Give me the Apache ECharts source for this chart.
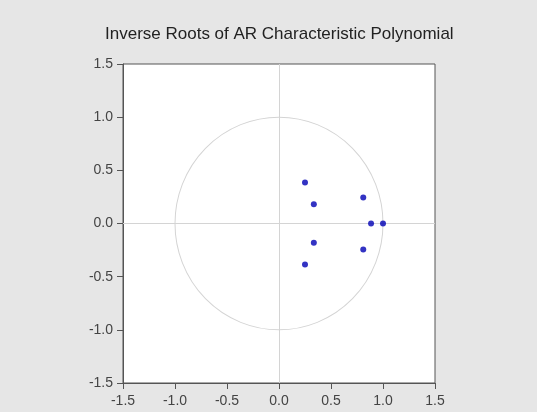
<!DOCTYPE html>
<html>
<head>
<meta charset="utf-8">
<script src="https://cdn.jsdelivr.net/npm/echarts@6/dist/echarts.min.js"></script>
<style>
html,body{margin:0;padding:0;background:#e6e6e6;}
#chart{width:537px;height:412px;}
</style>
</head>
<body>
<div id="chart"></div>
<script>
// Inverse roots (real, imaginary)
var rootReal = [0.25, 0.335, 0.81, 0.885, 1.0, 0.335, 0.81, 0.25];
var rootImag = [0.385, 0.182, 0.245, 0, 0, -0.182, -0.245, -0.385];
var axisTicks = [-1.5, -1.0, -0.5, 0.0, 0.5, 1.0, 1.5];
var unitRadius = [1];

var pts = rootReal.map(function (r, i) { return [r, rootImag[i]]; });

var chart = echarts.init(document.getElementById('chart'));
var labelStyle = {color: '#444', fontFamily: 'Liberation Sans, Arial', fontSize: 14,
  formatter: function (v) { return v.toFixed(1); }};
chart.setOption({
  backgroundColor: '#e6e6e6',
  animation: false,
  title: {
    text: 'Inverse Roots of AR Characteristic Polynomial',
    left: 100, top: 21,
    textStyle: {fontFamily: 'Liberation Sans, Arial', fontSize: 17, fontWeight: 'normal', color: '#222'}
  },
  grid: {
    left: 123, right: 102, top: 64, bottom: 29,
    show: true, backgroundColor: '#ffffff', borderColor: '#555', borderWidth: 1
  },
  xAxis: {
    type: 'value', min: axisTicks[0], max: axisTicks[axisTicks.length - 1], interval: 0.5,
    axisLine: {show: true, onZero: false, lineStyle: {color: '#555'}},
    axisTick: {show: true, length: 6, lineStyle: {color: '#555'}},
    axisLabel: Object.assign({margin: 11}, labelStyle),
    splitLine: {show: false}
  },
  yAxis: {
    type: 'value', min: axisTicks[0], max: axisTicks[axisTicks.length - 1], interval: 0.5,
    axisLine: {show: true, onZero: false, lineStyle: {color: '#555'}},
    axisTick: {show: true, length: 6, lineStyle: {color: '#555'}},
    axisLabel: Object.assign({margin: 10}, labelStyle),
    splitLine: {show: false}
  },
  series: [
    {
      type: 'custom',
      silent: true,
      data: unitRadius.map(function (r) { return [0, 0, r]; }),
      renderItem: function (params, api) {
        var c = api.coord([api.value(0), api.value(1)]);
        var s = api.size([api.value(2), api.value(2)]);
        return {
          type: 'circle',
          x: c[0], y: c[1],
          scaleX: 1, scaleY: s[1] / s[0],
          shape: {cx: 0, cy: 0, r: s[0]},
          style: {fill: 'none', stroke: '#d4d4d4', lineWidth: 1, strokeNoScale: true}
        };
      },
      markLine: {
        silent: true,
        z: 1,
        symbol: ['none', 'none'],
        label: {show: false},
        lineStyle: {color: '#d4d4d4', type: 'solid', width: 1},
        data: [{xAxis: 0}, {yAxis: 0}]
      },
      z: 1
    },
    {
      type: 'scatter',
      data: pts,
      symbol: 'circle',
      symbolSize: 6,
      itemStyle: {color: '#0000b4'},
      z: 3
    }
  ]
});
</script>
</body>
</html>
